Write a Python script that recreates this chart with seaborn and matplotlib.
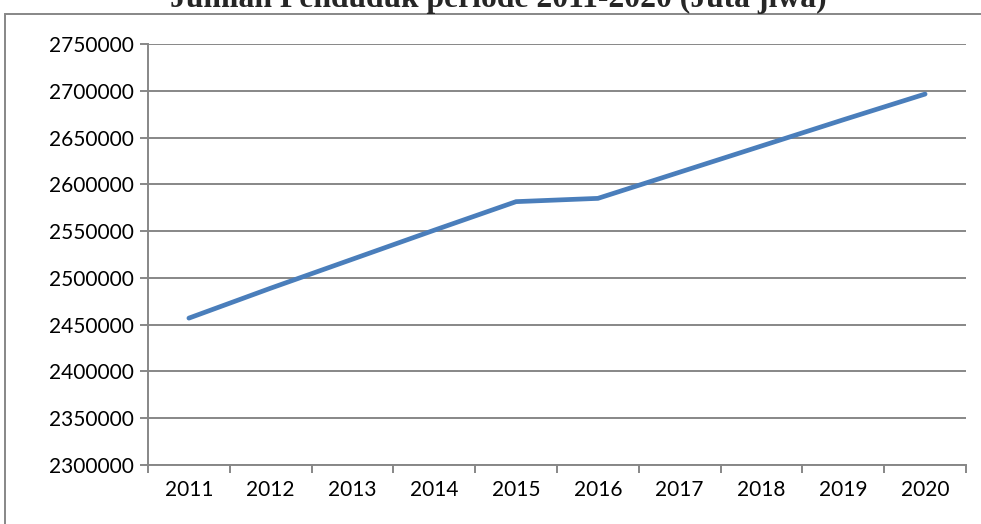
import matplotlib
matplotlib.use("Agg")
import matplotlib.pyplot as plt
from matplotlib.patches import Rectangle
from matplotlib.ticker import FixedLocator
import seaborn as sns
import pandas as pd

years = [2011, 2012, 2013, 2014, 2015, 2016, 2017, 2018, 2019, 2020]
population = [2457000, 2489000, 2520000, 2551000, 2581500, 2585000, 2613000, 2641000, 2669000, 2696500]
y_ticks = [2300000, 2350000, 2400000, 2450000, 2500000, 2550000, 2600000, 2650000, 2700000, 2750000]
title = "Jumlah Penduduk periode 2011-2020 (Juta jiwa)"

df = pd.DataFrame({"Tahun": years, "Penduduk": population})

sns.set_theme(style="white")
plt.rcParams["font.family"] = ["Lato", "DejaVu Sans"]

W, H = 981, 524
fig = plt.figure(figsize=(W / 100, H / 100), dpi=100)
ax = fig.add_axes([148 / W, (H - 465) / H, (966 - 148) / W, (465 - 44) / H])

grid_c = "#878787"
sns.lineplot(data=df, x="Tahun", y="Penduduk", ax=ax, color="#4A7EBB",
             linewidth=3.4, solid_capstyle="round", solid_joinstyle="miter")

ax.set_xlim(2010.5, 2020.5)
ax.set_ylim(y_ticks[0], y_ticks[-1])
ax.set_yticks(y_ticks)
ax.set_yticklabels([str(v) for v in y_ticks])
ax.set_xticks(years)
ax.set_xticklabels([str(y) for y in years])
ax.xaxis.set_minor_locator(FixedLocator([y - 0.5 for y in years] + [years[-1] + 0.5]))

ax.yaxis.grid(True, color=grid_c, linewidth=1.4)
ax.set_axisbelow(True)
ax.set_xlabel("")
ax.set_ylabel("")

for s in ["top", "right"]:
    ax.spines[s].set_visible(False)
for s in ["left", "bottom"]:
    ax.spines[s].set_color(grid_c)
    ax.spines[s].set_linewidth(1.4)

ax.tick_params(axis="y", which="major", length=6, width=1.4, color=grid_c,
               labelsize=15, pad=4, labelcolor="black")
ax.tick_params(axis="x", which="major", length=0, labelsize=15, pad=11, labelcolor="black")
ax.tick_params(axis="x", which="minor", length=6, width=1.4, color=grid_c, bottom=True)
ax.tick_params(axis="both", left=True, bottom=True)

# outer chart frame
fig.patches.append(Rectangle((5 / W, -0.01), 1.02, 1 - 14 / H + 0.01,
                             transform=fig.transFigure, fill=False,
                             edgecolor=grid_c, linewidth=1.4))

fig.text(498 / W, 1 - 7 / H, title, ha="center", va="baseline",
         fontsize=22.8, fontweight="bold", family=["Liberation Serif", "DejaVu Serif"])

fig.savefig("out.png", dpi=100, facecolor="white")
